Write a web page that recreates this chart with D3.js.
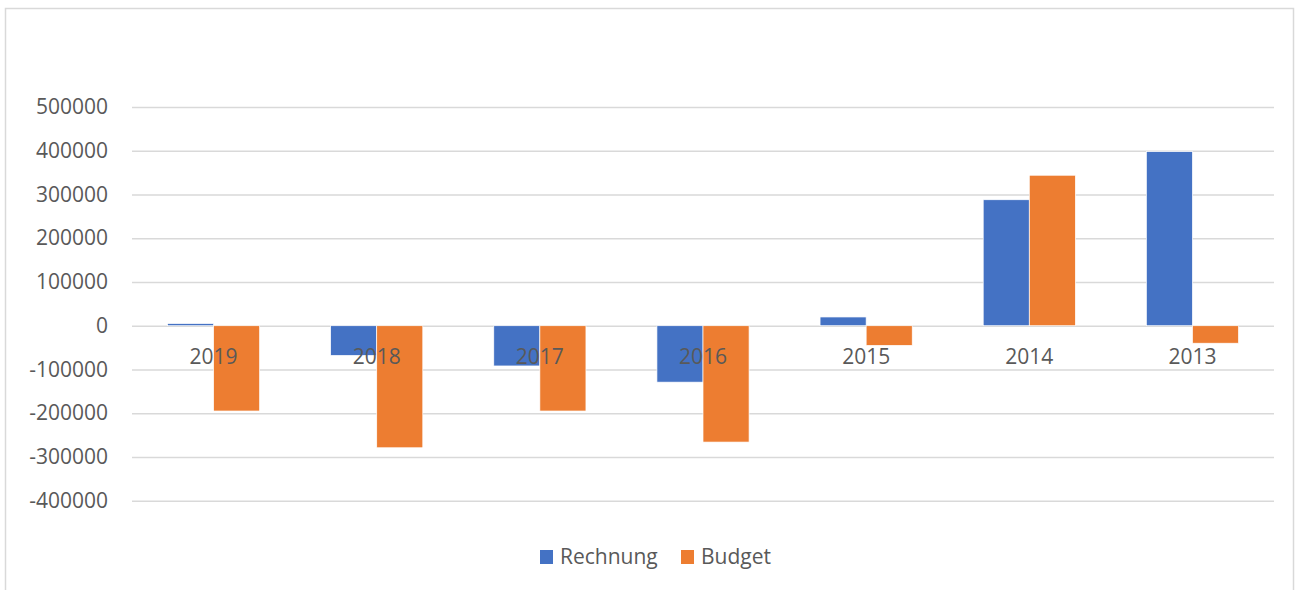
<!DOCTYPE html>
<html>
<head>
<meta charset="utf-8">
<script src="https://cdn.jsdelivr.net/npm/d3@7"></script>
<style>
  html, body { margin: 0; padding: 0; background: #fff; }
  svg { display: block; font-family: 'Open Sans', 'Noto Sans', sans-serif; }
</style>
</head>
<body>
<div id="chart"></div>
<script>
const categories = ['2019', '2018', '2017', '2016', '2015', '2014', '2013'];
const seriesNames = ['Rechnung', 'Budget'];
const rechnung = [5000, -68000, -92000, -129000, 20000, 288000, 398000];
const budget = [-195000, -279000, -195000, -266000, -45000, 344000, -40000];
const yTicks = [-400000, -300000, -200000, -100000, 0, 100000, 200000, 300000, 400000, 500000];
const colors = ['#4472C4', '#ED7D31'];

const w = 1296, h = 590;
const svg = d3.select('#chart').append('svg').attr('width', w).attr('height', h);

// chart frame
svg.append('rect')
  .attr('x', 5.5).attr('y', 8.5).attr('width', 1288).attr('height', 600)
  .attr('fill', 'none').attr('stroke', '#d9d9d9').attr('stroke-width', 1.5);

const x = d3.scaleBand().domain(categories).range([132, 1274])
  .paddingInner(0.435).paddingOuter(0.2175);
const xs = d3.scaleBand().domain(seriesNames).range([0, x.bandwidth()]);
const y = d3.scaleLinear().domain([-400000, 500000]).range([500.7, 107]);

// gridlines + tick labels (plain hyphen for negatives, like Excel)
const yAxis = d3.axisLeft(y).tickValues(yTicks).tickSize(-(1274 - 132)).tickPadding(24).tickFormat(d => String(d));
const gy = svg.append('g').attr('transform', 'translate(132,0)').call(yAxis);
gy.select('.domain').remove();
gy.selectAll('.tick line').attr('stroke', '#d9d9d9').attr('stroke-width', 1.5);
gy.selectAll('.tick text').attr('fill', '#595959').style('font-size', '21px')
  .style('font-family', "'Open Sans', sans-serif");

const data = categories.map((c, i) => ({ cat: c, values: [rechnung[i], budget[i]] }));

const groups = svg.append('g').selectAll('g').data(data).enter().append('g')
  .attr('transform', d => `translate(${x(d.cat)},0)`);

groups.selectAll('rect')
  .data(d => d.values.map((v, j) => ({ name: seriesNames[j], value: v, j: j })))
  .enter().append('rect')
  .attr('x', d => xs(d.name))
  .attr('width', xs.bandwidth())
  .attr('y', d => Math.min(y(d.value), y(0)))
  .attr('height', d => Math.abs(y(d.value) - y(0)))
  .attr('fill', d => colors[d.j])
  .attr('stroke', '#fff').attr('stroke-width', 0.7);

// category labels next to the zero line
svg.append('g').selectAll('text').data(categories).enter().append('text')
  .attr('x', d => x(d) + x.bandwidth() / 2)
  .attr('y', y(0) + 38)
  .attr('text-anchor', 'middle')
  .attr('fill', '#595959')
  .style('font-size', '21px')
  .text(d => d);

// legend
const legend = svg.append('g').attr('transform', 'translate(540,550)');
const legendX = [0, 141];
seriesNames.forEach((name, i) => {
  const lg = legend.append('g').attr('transform', `translate(${legendX[i]},0)`);
  lg.append('rect').attr('width', 13).attr('height', 14).attr('fill', colors[i]);
  lg.append('text').attr('x', 20).attr('y', 14)
    .attr('fill', '#595959').style('font-size', '21px')
    .text(name);
});
</script>
</body>
</html>
